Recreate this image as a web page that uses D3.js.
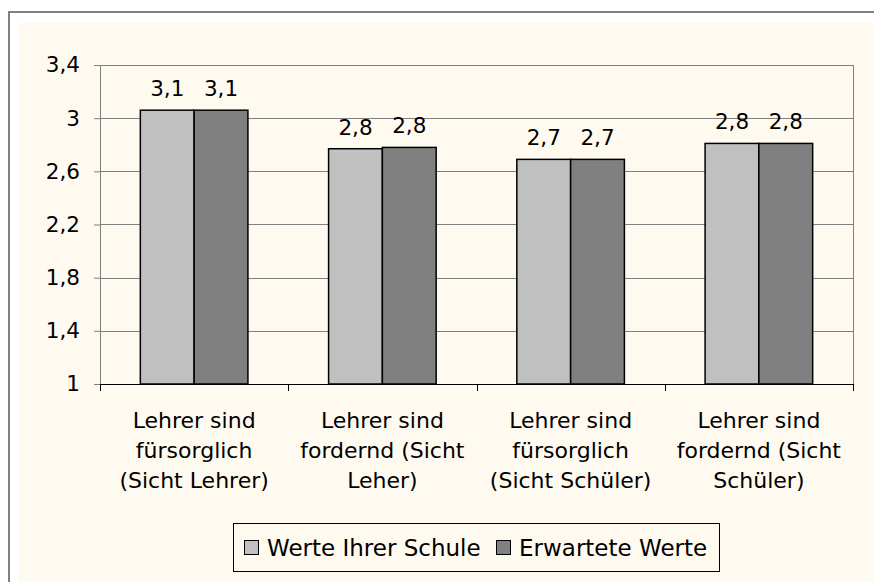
<!DOCTYPE html>
<html lang="de">
<head>
<meta charset="UTF-8">
<title>Lehrer</title>
<script src="https://cdn.jsdelivr.net/npm/d3@7/dist/d3.min.js"></script>
<style>
  body { margin: 0; background: #fff; }
  text { font-family: "DejaVu Sans", Verdana, sans-serif; fill: #000; }
</style>
</head>
<body>
<svg width="874" height="582" id="mainsvg"></svg>
<script>
const categories = [
  ['Lehrer sind', 'fürsorglich', '(Sicht Lehrer)'],
  ['Lehrer sind', 'fordernd (Sicht', 'Leher)'],
  ['Lehrer sind', 'fürsorglich', '(Sicht Schüler)'],
  ['Lehrer sind', 'fordernd (Sicht', 'Schüler)']
]
const seriesNames = ['Werte Ihrer Schule', 'Erwartete Werte']
const schoolValues = [3.06, 2.77, 2.69, 2.81]
const expectedValues = [3.06, 2.78, 2.69, 2.81]
const yTicks = [1, 1.4, 1.8, 2.2, 2.6, 3, 3.4]
const colors = ['#c0c0c0', '#808080']

const svg = d3.select('#mainsvg')
const margin = {top: 65, right: 21, bottom: 198, left: 100}
const plotW = 874 - margin.left - margin.right
const plotH = 582 - margin.top - margin.bottom

// frame + cream background (runs off the right/bottom edge)
svg.append('rect').attr('x', 9).attr('y', 12).attr('width', 900).attr('height', 600)
  .attr('fill', '#fff').attr('stroke', '#808080').attr('stroke-width', 2)
svg.append('rect').attr('x', 19).attr('y', 23).attr('width', 900).attr('height', 600)
  .attr('fill', '#fffaf0')

const g = svg.append('g').attr('transform', `translate(${margin.left},${margin.top})`)

const keys = categories.map((d, i) => i)
const x = d3.scaleBand().domain(keys).range([0, plotW]).padding(0)
const groupW = x.bandwidth() * 2 / 3.5
const xs = d3.scaleBand().domain([0, 1])
  .range([(x.bandwidth() - groupW) / 2, (x.bandwidth() + groupW) / 2])
const y = d3.scaleLinear().domain([1, 3.4]).range([plotH, 0])
const fmt = v => String(v).replace('.', ',')

// gridlines
g.append('g').selectAll('line').data(yTicks.slice(1)).join('line')
  .attr('x1', 0).attr('x2', plotW)
  .attr('y1', d => Math.round(y(d)) + 0.5).attr('y2', d => Math.round(y(d)) + 0.5)
  .attr('stroke', '#808080').attr('stroke-width', 1)
// right border
g.append('line').attr('x1', plotW + 0.5).attr('x2', plotW + 0.5).attr('y1', 0).attr('y2', plotH)
  .attr('stroke', '#808080')

// y axis
const yAxis = d3.axisLeft(y).tickValues(yTicks).tickSize(6).tickPadding(14)
  .tickFormat(d => fmt(d))
const yg = g.append('g').call(yAxis)
yg.select('.domain').attr('stroke', '#808080')
yg.selectAll('.tick line').attr('stroke', '#808080')
yg.selectAll('.tick text').attr('font-size', '21.5px').attr('font-family', '"DejaVu Sans", sans-serif')

// bars
const data = keys.map(i => [schoolValues[i], expectedValues[i]])
const groups = g.selectAll('.grp').data(data).join('g')
  .attr('transform', (d, i) => `translate(${x(i)},0)`)
groups.selectAll('rect').data(d => d).join('rect')
  .attr('x', (d, j) => xs(j))
  .attr('width', xs.bandwidth())
  .attr('y', d => y(d))
  .attr('height', d => plotH - y(d))
  .attr('fill', (d, j) => colors[j])
  .attr('stroke', '#000').attr('stroke-width', 1.5)
groups.selectAll('text').data(d => d).join('text')
  .attr('x', (d, j) => xs(j) + xs.bandwidth() / 2)
  .attr('y', d => y(d) - 14)
  .attr('text-anchor', 'middle').attr('font-size', '21.5px')
  .text(d => fmt(d3.format('.1f')(d)))

// x axis
g.append('line').attr('x1', 0).attr('x2', plotW).attr('y1', plotH + 0.5).attr('y2', plotH + 0.5)
  .attr('stroke', '#000')
g.append('g').selectAll('line').data(d3.range(keys.length + 1)).join('line')
  .attr('x1', i => Math.round(i * x.step()) + 0.5).attr('x2', i => Math.round(i * x.step()) + 0.5)
  .attr('y1', plotH).attr('y2', plotH + 7).attr('stroke', '#000')
const cl = g.append('g').selectAll('text').data(categories).join('text')
  .attr('text-anchor', 'middle').attr('font-size', '22px')
  .attr('transform', (d, i) => `translate(${x(i) + x.bandwidth() / 2},${plotH + 44})`)
cl.selectAll('tspan').data(d => d).join('tspan')
  .attr('x', 0).attr('y', (d, k) => k * 30).text(d => d)

// legend
const lg = svg.append('g')
lg.append('rect').attr('x', 233.5).attr('y', 523.5).attr('width', 486).attr('height', 48)
  .attr('fill', 'none').attr('stroke', '#000').attr('stroke-width', 1)
const legX = [244, 496]
seriesNames.forEach((name, j) => {
  lg.append('rect').attr('x', legX[j] + 0.5).attr('y', 540.5).attr('width', 14).attr('height', 14)
    .attr('fill', colors[j]).attr('stroke', '#000')
  lg.append('text').attr('x', legX[j] + 23).attr('y', 556).attr('font-size', '23px').text(name)
})
</script>
</body>
</html>
